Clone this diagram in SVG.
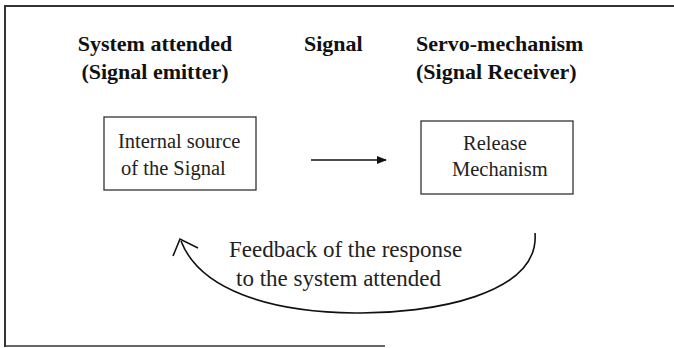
<svg xmlns="http://www.w3.org/2000/svg" width="674" height="348" viewBox="0 0 674 348">
<style>
.h{font-family:"Liberation Serif","Times New Roman",serif;font-weight:bold;font-size:22px;fill:#111}
.t{font-family:"Liberation Serif","Times New Roman",serif;font-size:20.5px;fill:#222}
.f{font-family:"Liberation Serif","Times New Roman",serif;font-size:23px;fill:#222}
.box{fill:#fff;stroke:#333;stroke-width:1.3}
.ln{fill:none;stroke:#111;stroke-width:1.6}
</style>
<defs>
<marker id="ah" viewBox="0 0 10 10" refX="9" refY="5" markerWidth="11" markerHeight="10" markerUnits="userSpaceOnUse" orient="auto">
<path d="M0,1 L10,5 L0,9 Z" fill="#111"/>
</marker>
</defs>
<rect width="674" height="348" fill="#fff"/>
<g id="frame" fill="none" stroke="#333">
<path d="M5,347 V6 H674" stroke-width="2"/>
<path d="M5,346 H385" stroke-width="1.5"/>
</g>
<g id="headers">
<text class="h" x="155" y="51" text-anchor="middle">System attended</text>
<text class="h" x="155" y="79" text-anchor="middle">(Signal emitter)</text>
<text class="h" x="304" y="51">Signal</text>
<text class="h" x="416" y="51">Servo-mechanism</text>
<text class="h" x="416" y="79">(Signal Receiver)</text>
</g>
<g id="source">
<rect class="box" x="104" y="117" width="152" height="73"/>
<text class="t" x="118" y="148">Internal source</text>
<text class="t" x="121" y="175">of the Signal</text>
</g>
<g id="release">
<rect class="box" x="421" y="121" width="152" height="73"/>
<text class="t" x="463" y="150">Release</text>
<text class="t" x="452" y="176">Mechanism</text>
</g>
<g id="connectors">
<line class="ln" x1="311" y1="160" x2="386" y2="160" marker-end="url(#ah)"/>
<path class="ln" d="M535,233 C540,295 430,314 355,313 C270,312 200,290 181,241"/>
<polyline class="ln" points="173,256 180,239 198,248" stroke-width="2.2"/>
<text class="f" x="229" y="257">Feedback of the response</text>
<text class="f" x="236" y="286">to the system attended</text>
</g>
</svg>
